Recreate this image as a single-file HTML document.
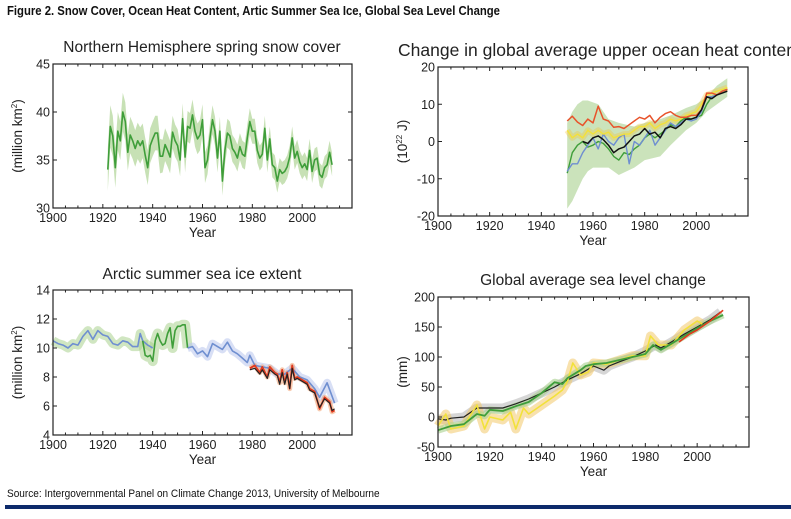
<!DOCTYPE html>
<html><head><meta charset="utf-8">
<style>
html,body{margin:0;padding:0;background:#fff;}
body{width:791px;height:519px;position:relative;overflow:hidden;font-family:"Liberation Sans",sans-serif;}
#hdr{position:absolute;left:7px;top:3px;font-weight:bold;font-size:13px;color:#111;white-space:nowrap;transform:scaleX(0.87);transform-origin:0 0;}
#src{position:absolute;left:7px;top:488px;font-size:11px;color:#111;white-space:nowrap;transform:scaleX(0.915);transform-origin:0 0;}
#bar{position:absolute;left:5px;top:505px;width:786px;height:4px;background:#0d2a6b;}
svg{position:absolute;left:0;top:0;}
</style></head><body>
<div id="hdr">Figure 2. Snow Cover, Ocean Heat Content, Artic Summer Sea Ice, Global Sea Level Change</div>
<svg id="chart" width="791" height="519"></svg>
<div id="src">Source: Intergovernmental Panel on Climate Change 2013, University of Melbourne</div>
<div id="bar"></div>
<script>
// ---- Snow cover ----
const snowYears=[1922,1923,1924,1925,1926,1927,1928,1929,1930,1931,1932,1933,1934,1935,1936,1937,1938,1939,1940,1941,1942,1943,1944,1945,1946,1947,1948,1949,1950,1951,1952,1953,1954,1955,1956,1957,1958,1959,1960,1961,1962,1963,1964,1965,1966,1967,1968,1969,1970,1971,1972,1973,1974,1975,1976,1977,1978,1979,1980,1981,1982,1983,1984,1985,1986,1987,1988,1989,1990,1991,1992,1993,1994,1995,1996,1997,1998,1999,2000,2001,2002,2003,2004,2005,2006,2007,2008,2009,2010,2011,2012];
const snowValues=[34,38.5,37.5,34.2,38,37,40,39,35.8,37.6,37,36.2,37,36.5,37,35.5,34.2,36.5,37.2,37.8,37.8,35.4,35.4,36.6,36,35.3,37.9,37,36.5,35,39.3,35.3,38.5,38.3,39.7,38,37.2,37.6,39.2,34.2,35,37.3,39.2,38,35.2,38,32.8,36,37.8,37.5,36.2,35.8,35.2,36.4,35.6,35.4,37.3,39,38,38,36,35.2,35.6,38.3,35,37.2,34.5,34.2,32.8,34,33.6,33.8,34.3,35.3,37.3,35.2,35.9,34.8,34.2,34.6,34,36,33.8,35,35.2,33.5,33.2,34.2,34.5,35.8,34.5];
const snowErr=[2.2,2.2,2.1,2.1,2,2,2,2,1.9,1.9,1.9,1.9,1.9,1.9,1.8,1.8,1.8,1.8,1.8,1.8,1.8,1.8,1.7,1.7,1.7,1.7,1.7,1.7,1.7,1.7,1.6,1.6,1.6,1.6,1.6,1.6,1.6,1.6,1.6,1.6,1.5,1.5,1.5,1.5,1.5,1.5,1.5,1.5,1.5,1.5,1.4,1.4,1.4,1.4,1.4,1.4,1.4,1.4,1.3,1.3,1.3,1.3,1.3,1.3,1.3,1.3,1.3,1.3,1.2,1.2,1.2,1.2,1.2,1.2,1.2,1.2,1.2,1.2,1.2,1.2,1.2,1.2,1.2,1.2,1.2,1.2,1.2,1.2,1.2,1.2,1.2];
// ---- Ocean heat ----
const ohcYears=[1950,1952,1954,1956,1958,1960,1962,1964,1966,1968,1970,1972,1974,1976,1978,1980,1982,1984,1986,1988,1990,1992,1994,1996,1998,2000,2002,2004,2006,2008,2010,2012];
const ohcRed=[5.5,6.8,5.2,4.3,6,5,9.5,6,5.5,3.8,4,3.5,4.5,5.5,6.5,6,7,5,6.5,7.5,8,7,6.5,6.5,7,7,8.5,13,13,12.5,13.5,14];
const ohcYellow=[3,1,2,1,3,2,3,2,2.5,1,1.5,2,2,3,4,4,5,3.5,4.5,5,6,5.5,6,7,7.5,8,10,12.5,13,13.5,14,14.5];
const ohcBlue=[-8,-6,-6,-3,-1,1,-2,2,0,-1,1,2,-6,0,-1,1,3,-1,1,3,5,4,5,6,5.5,6,8,12,12,12.5,13.5,14];
const ohcGreen=[-8.5,-3,-1,0,-1.5,-1,0,-0.5,-2,-4,-5,-3,-3.5,-2,-1,1,2,1,2,3,4.5,4,5.5,6.5,6,6.5,7,10,12,12.5,13.5,14];
const ohcBlackYears=[1956,1958,1960,1962,1964,1966,1968,1970,1972,1974,1976,1978,1980,1982,1984,1986,1988,1990,1992,1994,1996,1998,2000,2002,2004,2006,2008,2010,2012];
const ohcBlack=[0,-0.5,1,1.5,0.5,-1,-3,-2,-1.5,0,1.5,2,3.5,2,2.5,1,3.5,4,3.5,4.5,6,6,6.5,8.5,12,11.5,12.5,13,13.5];
const ohcBandYears=[1950,1952,1954,1956,1958,1960,1962,1966,1970,1976,1980,1986,1990,1996,2000,2004,2008,2012];
const ohcBandLow=[-18,-16,-13,-10,-8,-7,-7,-7,-9,-7,-5,-4,-1,3,5,8,10,12];
const ohcBandHigh=[5,8,10,11,11,10.5,10,6,5,4,5,6,7,9,10,12,15,17];
// ---- Sea ice ----
const iceBlueAYears=[1900,1902,1904,1906,1908,1910,1912,1914,1916,1918,1920,1922,1924,1926,1928,1930,1932,1934,1935,1936,1938,1940];
const iceBlueA=[10.5,10.3,10.2,10,10.3,10.2,10.8,11.2,10.6,11.2,10.9,10.8,10.3,10.2,10.5,10.4,10.1,10.1,11,10.5,10.2,10];
const iceGreenYears=[1936,1937,1938,1939,1940,1941,1942,1943,1944,1945,1946,1947,1948,1949,1950,1951,1952,1953,1954];
const iceGreen=[10.5,9.5,9.4,9.5,9.1,10.5,11,10.5,10.2,10.3,11,11.4,10,11.2,11.5,11.5,11.6,11.6,10];
const iceBlueBYears=[1954,1956,1958,1960,1962,1964,1966,1968,1970,1972,1974,1976,1978,1979,1981,1984,1987,1990,1993,1996,1999,2002,2005,2007,2010,2013];
const iceBlueB=[10,10.1,9.6,9.8,9.4,10.3,10.1,9.9,10.4,9.8,9.6,9.3,9,9.5,8.8,8.7,8.6,8.2,8.2,8.6,8,7.8,7.2,6.6,7.6,6.2];
const iceRedYears=[1979,1981,1983,1984,1986,1987,1989,1990,1991,1992,1993,1994,1995,1996,1997,1998,2000,2002,2003,2005,2007,2009,2011,2012,2013];
const iceRed=[8.6,8.8,8.3,8.7,8,8.7,8.3,8.2,7.6,8.5,7.6,8.3,7.2,8.8,7.9,8,7.8,7.6,7.2,7,5.8,6.6,6.3,5.6,5.7];
const iceBlack=[8.5,8.6,8.2,8.5,7.9,8.5,8.2,8.1,7.5,8.3,7.5,8.2,7.2,8.6,7.8,7.9,7.7,7.5,7.1,6.9,5.9,6.5,6.2,5.7,5.8];
// ---- Sea level ----
const slGreenYears=[1900,1905,1910,1915,1918,1920,1925,1930,1935,1940,1945,1948,1950,1955,1957,1960,1965,1970,1975,1980,1983,1986,1990,1995,2000,2005,2010];
const slGreen=[-22,-15,-12,5,2,12,10,18,25,40,58,55,65,78,85,88,90,95,100,105,120,112,122,135,148,160,170];
const slBlackYears=[1900,1903,1905,1910,1915,1920,1925,1930,1935,1940,1945,1950,1955,1960,1964,1966,1970,1975,1980,1984,1986,1990,1995,2000,2005,2009];
const slBlack=[-3,-5,-2,0,15,15,15,22,30,40,50,62,72,85,78,85,92,100,110,120,115,125,138,150,162,175];
const slYellowYears=[1900,1903,1905,1910,1915,1918,1920,1925,1928,1930,1933,1935,1940,1945,1948,1950,1952,1955,1958,1960,1965,1970,1975,1980,1982,1985,1990,1995,2000,2002];
const slYellow=[-15,5,-20,-15,20,-20,0,-5,8,-20,15,5,20,35,45,60,90,70,75,90,88,95,102,102,135,120,120,145,160,155];
const slRedYears=[1993,1997,2000,2005,2010];
const slRed=[125,138,145,160,178];

const NS='http://www.w3.org/2000/svg';
const svg=document.getElementById('chart');
function mk(tag,attrs,parent){const e=document.createElementNS(NS,tag);for(const k in attrs)e.setAttribute(k,attrs[k]);(parent||svg).appendChild(e);return e;}

function panel(p){
  const g=mk('g',{});
  
  
  const sx=v=>p.x0+(v-1900)/120*(p.x1-p.x0);
  const sy=v=>p.y1-(v-p.ymin)/(p.ymax-p.ymin)*(p.y1-p.y0);
  const t=mk('text',{x:p.tx,y:p.ty,'font-size':p.tfs||15.5,'text-anchor':p.tanchor||'middle',fill:'#222'},g);
  t.textContent=p.title;
  
  
  const plot=mk('g',{},g);
  
  
  p.draw(plot,sx,sy);
  const fr=mk('rect',{x:p.x0,y:p.y0,width:p.x1-p.x0,height:p.y1-p.y0,fill:'none',stroke:'#222','stroke-width':1.2},g);
  
  
  for(let yr=1900;yr<=2020;yr+=5){
    const X=sx(yr);const L=yr%20===0?4:2.5;
    mk('line',{x1:X,x2:X,y1:p.y1,y2:p.y1-L,stroke:'#222','stroke-width':1},g);
    mk('line',{x1:X,x2:X,y1:p.y0,y2:p.y0+L,stroke:'#222','stroke-width':1},g);
  }
  p.xticks.forEach(yr=>{
    const lb=mk('text',{x:sx(yr),y:p.y1+14,'font-size':12.5,'text-anchor':'middle',fill:'#222'},g);
    lb.textContent=yr;
    
    
  });
  p.yticks.forEach(v=>{
    const Y=sy(v);
    mk('line',{x1:p.x0,x2:p.x0+4,y1:Y,y2:Y,stroke:'#222'},g);
    mk('line',{x1:p.x1,x2:p.x1-4,y1:Y,y2:Y,stroke:'#222'},g);
    const lb=mk('text',{x:p.x0-3,y:Y+4.5,'font-size':12.5,'text-anchor':'end',fill:'#222'},g);
    lb.textContent=v;
    
    
  });
  const xt=mk('text',{x:(p.x0+p.x1)/2,y:p.y1+29,'font-size':13.5,'text-anchor':'middle',fill:'#222'},g);
  xt.textContent='Year';
  
  
  const yt=mk('text',{x:0,y:0,'font-size':13.5,'text-anchor':'middle',fill:'#222',transform:`translate(${p.x0-31},${(p.y0+p.y1)/2}) rotate(-90)`},g);
  yt.innerHTML=p.ytitle;
  
  
}
function line(par,xs,ys,sx,sy,col,w,name,op){
  const d=xs.map((x,i)=>(i?'L':'M')+sx(x).toFixed(1)+','+sy(ys[i]).toFixed(1)).join('');
  const e=mk('path',{d:d,fill:'none',stroke:col,'stroke-width':w,'stroke-linejoin':'round','stroke-opacity':op||1},par);
  
  
  return e;
}
function band(par,xs,lo,hi,sx,sy,col,op,name){
  let d='M'+xs.map((x,i)=>sx(x).toFixed(1)+','+sy(hi[i]).toFixed(1)).join('L');
  for(let i=xs.length-1;i>=0;i--)d+='L'+sx(xs[i]).toFixed(1)+','+sy(lo[i]).toFixed(1);
  const e=mk('path',{d:d+'Z',fill:col,'fill-opacity':op,stroke:'none'},par);
  
  
}
const XT=[1900,1920,1940,1960,1980,2000];

panel({name:'snow-cover-panel',title:'Northern Hemisphere spring snow cover',tx:202,ty:52,x0:53,x1:352,y0:64,y1:208,ymin:30,ymax:45,
  xticks:XT,yticks:[30,35,40,45],ytitle:'(million km<tspan font-size="8" dy="-5">2</tspan><tspan dy="5">)</tspan>',
  draw:(g,sx,sy)=>{
    band(g,snowYears,snowValues.map((v,i)=>v-snowErr[i]),snowValues.map((v,i)=>v+snowErr[i]),sx,sy,'#a9d18e',0.65,'snow-uncertainty-band');
    line(g,snowYears,snowValues,sx,sy,'#3f9e3a',1.6,'snow-cover-line');
  }});

panel({name:'ocean-heat-panel',title:'Change in global average upper ocean heat content',tx:398,ty:56,tanchor:'start',tfs:17.5,x0:438,x1:748,y0:67,y1:216,ymin:-20,ymax:20,
  xticks:XT,yticks:[-20,-10,0,10,20],ytitle:'(10<tspan font-size="8" dy="-5">22</tspan><tspan dy="5"> J)</tspan>',
  draw:(g,sx,sy)=>{
    band(g,ohcBandYears,ohcBandLow,ohcBandHigh,sx,sy,'#a9d18e',0.6,'ohc-uncertainty-band');
    line(g,ohcYears,ohcYellow,sx,sy,'#f3c43a',6,'ohc-yellow-band',0.35);
    line(g,ohcYears,ohcGreen,sx,sy,'#3f9e3a',1.4,'ohc-green-line');
    line(g,ohcYears,ohcBlue,sx,sy,'#6f8fd0',1.4,'ohc-blue-line');
    line(g,ohcYears,ohcYellow,sx,sy,'#f2e13a',1.4,'ohc-yellow-line');
    line(g,ohcYears,ohcRed,sx,sy,'#e8532b',1.5,'ohc-red-line');
    line(g,ohcBlackYears,ohcBlack,sx,sy,'#111',1.5,'ohc-black-line');
  }});

panel({name:'sea-ice-panel',title:'Arctic summer sea ice extent',tx:202,ty:279,x0:53,x1:352,y0:290,y1:435,ymin:4,ymax:14,
  xticks:XT,yticks:[4,6,8,10,12,14],ytitle:'(million km<tspan font-size="8" dy="-5">2</tspan><tspan dy="5">)</tspan>',
  draw:(g,sx,sy)=>{
    line(g,iceBlueAYears,iceBlueA,sx,sy,'#a9d18e',9,'ice-band-early',0.55);
    line(g,iceGreenYears,iceGreen,sx,sy,'#a9d18e',10,'ice-band-mid',0.55);
    line(g,iceBlueBYears,iceBlueB,sx,sy,'#b8c4ec',8,'ice-band-late',0.55);
    line(g,iceRedYears,iceRed,sx,sy,'#f2a070',5,'ice-band-satellite',0.55);
    line(g,iceBlueAYears,iceBlueA,sx,sy,'#6f8fd0',1.6,'ice-blue-line-early');
    line(g,iceGreenYears,iceGreen,sx,sy,'#3f9e3a',1.6,'ice-green-line');
    line(g,iceBlueBYears,iceBlueB,sx,sy,'#6f8fd0',1.6,'ice-blue-line-late');
    line(g,iceRedYears,iceRed,sx,sy,'#e23a1e',1.8,'ice-red-line');
    line(g,iceRedYears,iceBlack,sx,sy,'#222',1.2,'ice-black-line');
  }});

panel({name:'sea-level-panel',title:'Global average sea level change',tx:593,ty:285,x0:438,x1:749,y0:297,y1:447,ymin:-50,ymax:200,
  xticks:XT,yticks:[-50,0,50,100,150,200],ytitle:'(mm)',
  draw:(g,sx,sy)=>{
    line(g,slBlackYears,slBlack,sx,sy,'#bbb',9,'sl-gray-band',0.6);
    line(g,slYellowYears,slYellow,sx,sy,'#f2c96a',9,'sl-orange-band',0.55);
    line(g,slGreenYears,slGreen,sx,sy,'#a9d18e',7,'sl-green-band',0.6);
    line(g,slBlackYears,slBlack,sx,sy,'#222',1.2,'sl-black-line');
    line(g,slYellowYears,slYellow,sx,sy,'#f2e13a',1.6,'sl-yellow-line');
    line(g,slGreenYears,slGreen,sx,sy,'#3f9e3a',1.8,'sl-green-line');
    line(g,slRedYears,slRed,sx,sy,'#e23a1e',1.6,'sl-red-line');
  }});
</script>
</body></html>
